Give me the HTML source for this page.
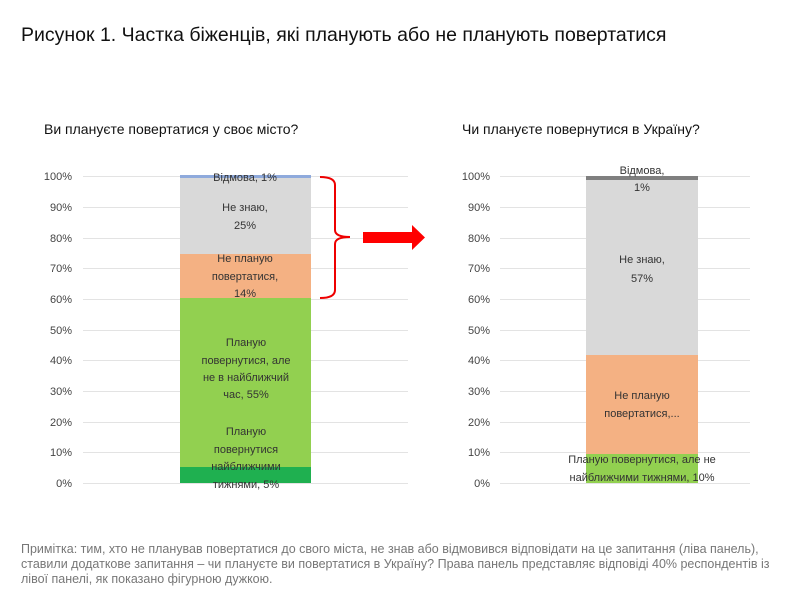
<!DOCTYPE html>
<html><head><meta charset="utf-8"><style>
body{margin:0;background:#fff;width:810px;height:598px;overflow:hidden;font-family:"Liberation Sans","DejaVu Sans",sans-serif;}
.t{position:absolute;left:21px;top:24px;font-size:19.5px;color:#111;}
.s{position:absolute;font-size:14px;color:#111;}
.n{position:absolute;left:21px;top:542px;width:770px;font-size:12.5px;line-height:15px;color:#777;}
svg text{font-family:"Liberation Sans","DejaVu Sans",sans-serif;}
</style></head><body>
<div class="t">Рисунок 1. Частка біженців, які планують або не планують повертатися</div>
<div class="s" style="left:44px;top:121px">Ви плануєте повертатися у своє місто?</div>
<div class="s" style="left:462px;top:121px">Чи плануєте повернутися в Україну?</div>
<svg width="810" height="598" style="position:absolute;left:0;top:0">
<g stroke="#e3e3e3" stroke-width="1">
<line x1="83" x2="408" y1="176.5" y2="176.5"/><line x1="83" x2="408" y1="207.5" y2="207.5"/><line x1="83" x2="408" y1="238.5" y2="238.5"/><line x1="83" x2="408" y1="268.5" y2="268.5"/><line x1="83" x2="408" y1="299.5" y2="299.5"/><line x1="83" x2="408" y1="330.5" y2="330.5"/><line x1="83" x2="408" y1="360.5" y2="360.5"/><line x1="83" x2="408" y1="391.5" y2="391.5"/><line x1="83" x2="408" y1="422.5" y2="422.5"/><line x1="83" x2="408" y1="452.5" y2="452.5"/><line x1="83" x2="408" y1="483.5" y2="483.5"/>
<line x1="500" x2="750" y1="176.5" y2="176.5"/><line x1="500" x2="750" y1="207.5" y2="207.5"/><line x1="500" x2="750" y1="238.5" y2="238.5"/><line x1="500" x2="750" y1="268.5" y2="268.5"/><line x1="500" x2="750" y1="299.5" y2="299.5"/><line x1="500" x2="750" y1="330.5" y2="330.5"/><line x1="500" x2="750" y1="360.5" y2="360.5"/><line x1="500" x2="750" y1="391.5" y2="391.5"/><line x1="500" x2="750" y1="422.5" y2="422.5"/><line x1="500" x2="750" y1="452.5" y2="452.5"/><line x1="500" x2="750" y1="483.5" y2="483.5"/>
</g>
<g font-size="11" fill="#444" text-anchor="end">
<text x="72" y="180">100%</text><text x="72" y="211">90%</text><text x="72" y="242">80%</text><text x="72" y="272">70%</text><text x="72" y="303">60%</text><text x="72" y="334">50%</text><text x="72" y="364">40%</text><text x="72" y="395">30%</text><text x="72" y="426">20%</text><text x="72" y="456">10%</text><text x="72" y="487">0%</text>
<text x="490" y="180">100%</text><text x="490" y="211">90%</text><text x="490" y="242">80%</text><text x="490" y="272">70%</text><text x="490" y="303">60%</text><text x="490" y="334">50%</text><text x="490" y="364">40%</text><text x="490" y="395">30%</text><text x="490" y="426">20%</text><text x="490" y="456">10%</text><text x="490" y="487">0%</text>
</g>
<rect x="180" y="467" width="131" height="16" fill="#1fb050"/>
<rect x="180" y="298" width="131" height="169" fill="#92d050"/>
<rect x="180" y="254" width="131" height="44" fill="#f4b183"/>
<rect x="180" y="178" width="131" height="76" fill="#d9d9d9"/>
<rect x="180" y="175" width="131" height="3" fill="#8faadc"/>
<g font-size="11" fill="#333" text-anchor="middle">
<text x="245" y="181">Відмова, 1%</text>
<text x="245" y="211">Не знаю,</text><text x="245" y="229">25%</text>
<text x="245" y="262">Не планую</text><text x="245" y="280">повертатися,</text><text x="245" y="297">14%</text>
<text x="246" y="346">Планую</text><text x="246" y="364">повернутися, але</text><text x="246" y="381">не в найближчий</text><text x="246" y="398">час, 55%</text>
<text x="246" y="435">Планую</text><text x="246" y="453">повернутися</text><text x="246" y="470">найближчими</text><text x="246" y="488">тижнями, 5%</text>
</g>
<path d="M320 177 Q335 177 335 185 L335 230 Q335 237 350 237 Q335 237 335 244 L335 290 Q335 298 320 298" fill="none" stroke="#e00" stroke-width="2"/>
<polygon points="363,232 412,232 412,225 425,237.5 412,250 412,243 363,243" fill="#f00"/>
<rect x="586" y="454" width="112" height="29" fill="#92d050"/>
<rect x="586" y="355" width="112" height="99" fill="#f4b183"/>
<rect x="586" y="180" width="112" height="175" fill="#d9d9d9"/>
<rect x="586" y="176" width="112" height="4" fill="#7f7f7f"/>
<g font-size="11" fill="#333" text-anchor="middle">
<text x="642" y="174">Відмова,</text><text x="642" y="191">1%</text>
<text x="642" y="263">Не знаю,</text><text x="642" y="282">57%</text>
<text x="642" y="399">Не планую</text><text x="642" y="417">повертатися,...</text>
<text x="642" y="463">Планую повернутися, але не</text><text x="642" y="481">найближчими тижнями, 10%</text>
</g>
</svg>
<div class="n">Примітка: тим, хто не планував повертатися до свого міста, не знав або відмовився відповідати на це запитання (ліва панель), ставили додаткове запитання – чи плануєте ви повертатися в Україну? Права панель представляє відповіді 40% респондентів із лівої панелі, як показано фігурною дужкою.</div>
</body></html>
